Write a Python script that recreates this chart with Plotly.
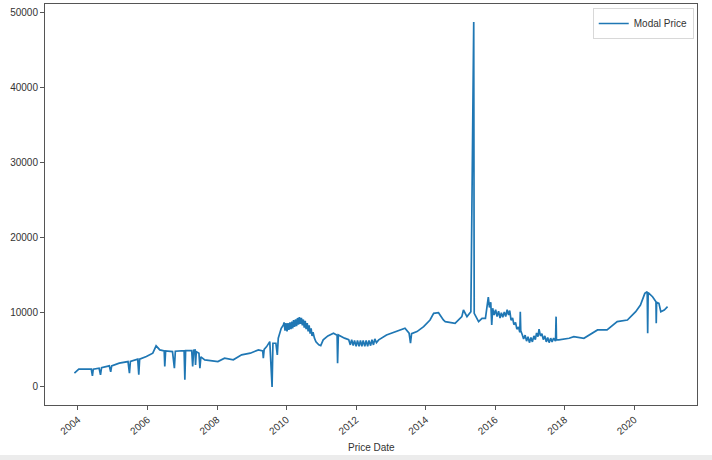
import plotly.graph_objects as go

# Price Date / Modal Price
dates = [
    "2003-11-25", "2003-12-20", "2004-01-10", "2004-05-20", "2004-06-01", "2004-06-10",
    "2004-08-10", "2004-08-25", "2004-09-05", "2004-11-25", "2004-12-10", "2004-12-20",
    "2005-03-10", "2005-06-10", "2005-06-25", "2005-07-05", "2005-09-20", "2005-10-01",
    "2005-10-10", "2005-12-20", "2006-02-25", "2006-04-01", "2006-05-10", "2006-06-25",
    "2006-07-01", "2006-07-10", "2006-09-20", "2006-10-10", "2006-10-20", "2007-01-20",
    "2007-01-28", "2007-02-05", "2007-04-10", "2007-04-20", "2007-05-01", "2007-05-15",
    "2007-05-20", "2007-05-28", "2007-06-25", "2007-07-05", "2007-07-15", "2007-08-25",
    "2008-01-10", "2008-03-20", "2008-06-20", "2008-09-15", "2008-12-15", "2009-03-10",
    "2009-04-25", "2009-05-01", "2009-05-10", "2009-06-05", "2009-07-08", "2009-08-01",
    "2009-08-10", "2009-09-10", "2009-09-25", "2009-10-05", "2009-11-05", "2009-11-28",
    # thick band 2009-2010
    "2009-12-05", "2009-12-15", "2009-12-25", "2010-01-05", "2010-01-15", "2010-01-25",
    "2010-02-05", "2010-02-15", "2010-02-25", "2010-03-05", "2010-03-15", "2010-03-25",
    "2010-04-05", "2010-04-15", "2010-04-25", "2010-05-05", "2010-05-15", "2010-05-25",
    "2010-06-05", "2010-06-15", "2010-06-25", "2010-07-05", "2010-07-15", "2010-07-25",
    "2010-08-05", "2010-08-15", "2010-08-25", "2010-09-05", "2010-09-15", "2010-09-25",
    "2010-10-05", "2010-10-20",
    "2010-11-05", "2010-12-05", "2010-12-25", "2011-01-20", "2011-03-10", "2011-05-08",
    "2011-06-15", "2011-06-20", "2011-06-28", "2011-09-01",
    # thick band 2011-2012
    "2011-10-15", "2011-11-01", "2011-11-15", "2011-12-01", "2011-12-15", "2012-01-01",
    "2012-01-15", "2012-02-01", "2012-02-15", "2012-03-01", "2012-03-15", "2012-04-01",
    "2012-04-15", "2012-05-01", "2012-05-15", "2012-06-01", "2012-06-15", "2012-07-01",
    "2012-07-15", "2012-08-01",
    "2012-08-25", "2012-11-15", "2013-03-01", "2013-05-28", "2013-07-10", "2013-07-25",
    "2013-08-05", "2013-10-01", "2013-12-10", "2014-02-15", "2014-03-25", "2014-05-15",
    "2014-07-05", "2014-07-25", "2014-11-05", "2015-01-15", "2015-02-01", "2015-03-10",
    "2015-04-20", "2015-05-20", "2015-05-25", "2015-07-10", "2015-08-15", "2015-09-20",
    # thick band 2015-2017
    "2015-10-20", "2015-11-01", "2015-11-15", "2015-11-25", "2015-12-05", "2015-12-20",
    "2016-01-05", "2016-01-20", "2016-02-05", "2016-02-20", "2016-03-05", "2016-03-20",
    "2016-04-05", "2016-04-20", "2016-05-05", "2016-05-20", "2016-06-01", "2016-06-15",
    "2016-07-01", "2016-07-15", "2016-08-01", "2016-08-15", "2016-09-01", "2016-09-15",
    "2016-09-20", "2016-09-25", "2016-10-10", "2016-10-25", "2016-11-10", "2016-11-25",
    "2016-12-10", "2016-12-25", "2017-01-10", "2017-01-25", "2017-02-10", "2017-02-25",
    "2017-03-10", "2017-03-25", "2017-04-05", "2017-04-20", "2017-05-05", "2017-05-20",
    "2017-06-05", "2017-06-20", "2017-07-05", "2017-07-20", "2017-08-05", "2017-08-20",
    "2017-09-05", "2017-09-25", "2017-10-01", "2017-10-05", "2017-10-30",
    "2018-02-15", "2018-04-05", "2018-07-20", "2018-12-10", "2019-03-20", "2019-07-05",
    "2019-10-20", "2020-01-15", "2020-03-05", "2020-04-20", "2020-05-15", "2020-05-20",
    "2020-05-25", "2020-07-10", "2020-08-15", "2020-08-18", "2020-08-22", "2020-09-15",
    "2020-10-05", "2020-11-10", "2020-12-15",
]
modal_price = [
    1830, 2100, 2360, 2360, 1470, 2360,
    2490, 1600, 2550, 2800, 2000, 2800,
    3160, 3370, 1830, 3400, 3690, 1600,
    3700, 4040, 4490, 5470, 4930, 4800,
    2700, 4800, 4710, 2490, 4750, 4840,
    930, 4840, 4840, 2700, 4900, 4930,
    2930, 4700, 4490, 2490, 4000, 3600,
    3370, 3820, 3600, 4270, 4490, 4930,
    4800, 3820, 5000, 5370, 6040, -40,
    5820, 5820, 4270, 6500, 7820, 8270,
    8600, 7500, 8500, 7400, 8500, 7600,
    8600, 7700, 8700, 7800, 8900, 8000,
    9000, 8100, 9200, 8300, 9300, 8400,
    9200, 8200, 9000, 7900, 8800, 7700,
    8500, 7400, 8200, 7100, 7800, 6800,
    7300, 6500,
    6000, 5600, 5500, 6270, 6800, 7160,
    6900, 3160, 6930, 6500,
    6300, 5600, 6300, 5500, 6200, 5400,
    6200, 5400, 6200, 5400, 6200, 5400,
    6200, 5400, 6200, 5500, 6300, 5600,
    6400, 5900,
    6270, 6930, 7380, 7820, 7160, 5820,
    7100, 7380, 8040, 8930, 9820, 9910,
    8930, 8710, 8490, 9380, 10270, 9380,
    10040, 48800, 9820, 8710, 9160, 9160,
    12000, 10600, 11300, 8270, 10500, 9600,
    10300, 9400, 10100, 9200, 9900, 9300,
    10000, 9400, 10300, 9600, 10200, 8900,
    9200, 8300, 8600, 7700, 8000, 7300,
    10040, 7500, 7000, 6400, 6900, 6100,
    6700, 5900, 6600, 6000, 6800, 6300,
    7200, 6700, 7700, 6800, 7100, 6300,
    6800, 6000, 6600, 5900, 6500, 6000,
    6500, 6100, 9380, 6270, 6270,
    6490, 6710, 6490, 7600, 7600, 8710,
    8930, 10040, 10930, 12490, 12710, 7160,
    12600, 12040, 11370, 8490, 11300, 11160,
    10040, 10270, 10710,
]

x_ticks = ["2004-01-01", "2006-01-01", "2008-01-01", "2010-01-01", "2012-01-01",
           "2014-01-01", "2016-01-01", "2018-01-01", "2020-01-01"]
x_tick_labels = ["2004", "2006", "2008", "2010", "2012", "2014", "2016", "2018", "2020"]
y_ticks = [0, 10000, 20000, 30000, 40000, 50000]

FONT = "Liberation Sans, Arial, sans-serif"
TXT = "#333333"

fig = go.Figure()
fig.add_trace(go.Scatter(
    x=dates, y=modal_price, mode="lines", name="Modal Price",
    line=dict(color="#1f77b4", width=1.7),
))

axis_common = dict(
    showline=True, linecolor="#555555", linewidth=1, mirror=True,
    ticks="outside", ticklen=4, tickcolor="#555555", showgrid=False, zeroline=False,
    automargin=False,
    tickfont=dict(family=FONT, size=10, color=TXT),
)

fig.update_layout(
    width=712, height=460,
    margin=dict(l=45, r=15, t=4, b=55),
    paper_bgcolor="white", plot_bgcolor="white",
    font=dict(family=FONT, size=10, color=TXT),
    showlegend=True,
    legend=dict(x=0.995, y=0.99, xanchor="right", yanchor="top",
                bordercolor="#d8d8d8", borderwidth=1, bgcolor="white",
                itemwidth=30, tracegroupgap=0,
                font=dict(family=FONT, size=10, color=TXT)),
    xaxis=dict(type="date", range=["2003-01-20", "2021-10-20"],
               tickvals=x_ticks, ticktext=x_tick_labels, tickangle=-40,
               **axis_common),
    yaxis=dict(range=[-2440, 51200], tickvals=y_ticks,
               ticktext=[str(v) for v in y_ticks], **axis_common),
    annotations=[dict(text="Price Date", xref="paper", yref="paper",
                      x=0.5, y=-0.107, xanchor="center", yanchor="middle",
                      showarrow=False, font=dict(family=FONT, size=10, color=TXT))],
    shapes=[dict(type="rect", xref="paper", yref="paper", x0=-0.1, x1=1.05,
                 y0=-0.142, y1=-0.1247, fillcolor="#ececec",
                 line=dict(width=0), layer="below")],
)

fig.write_html("out.html", config={"displayModeBar": False},
               post_script="document.body.style.margin='0';document.body.style.padding='0';")
